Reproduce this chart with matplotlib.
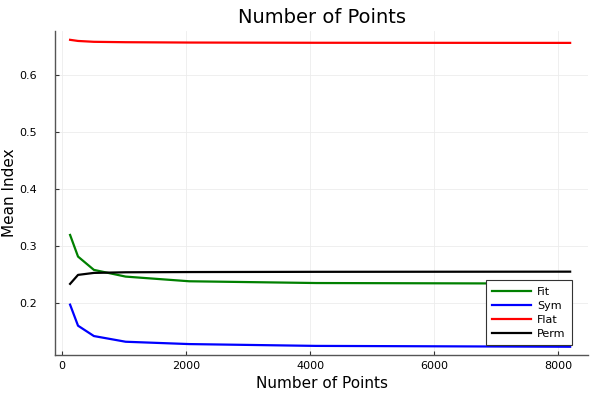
import matplotlib
matplotlib.use("Agg")
import matplotlib.pyplot as plt

# 数据
points = [128, 256, 512, 1024, 2048, 4096, 8192]
fit = [0.319, 0.281, 0.2576, 0.2458, 0.2376, 0.2345, 0.2335]
sym = [0.1965, 0.1595, 0.1413, 0.1313, 0.1272, 0.1240, 0.1225]
flat = [0.662, 0.660, 0.6585, 0.6578, 0.6572, 0.6568, 0.6566]
perm = [0.233, 0.2488, 0.2523, 0.2534, 0.2538, 0.2542, 0.2545]

plt.rcParams["font.family"] = ["DejaVu Sans"]

fig = plt.figure(figsize=(6, 4), dpi=100)
ax = fig.add_axes([0.0917, 0.1125, 0.8883, 0.81])

ax.plot(points, fit, color="#008000", lw=1.6, label="Fit")
ax.plot(points, sym, color="#0000ff", lw=1.6, label="Sym")
ax.plot(points, flat, color="#ff0000", lw=1.6, label="Flat")
ax.plot(points, perm, color="#000000", lw=1.6, label="Perm")

ax.set_xlim(-115, 8480)
ax.set_ylim(0.108, 0.6775)
ax.set_xticks([0, 2000, 4000, 6000, 8000])
ax.set_yticks([0.2, 0.3, 0.4, 0.5, 0.6])
ax.grid(True, color="#ececec", lw=0.6)
ax.set_axisbelow(True)

for s in ["top", "right"]:
    ax.spines[s].set_visible(False)
for s in ["left", "bottom"]:
    ax.spines[s].set_color("#555555")
    ax.spines[s].set_linewidth(1.0)
ax.tick_params(direction="in", length=3, labelsize=8, color="#333333")
ax.tick_params(axis="x", pad=4)
ax.tick_params(axis="y", pad=13)

ax.set_title("Number of Points", fontsize=14)
ax.set_xlabel("Number of Points", fontsize=11)
ax.set_ylabel("Mean Index", fontsize=11)
ax.yaxis.set_label_coords(-0.071, 0.5)

leg = ax.legend(loc="lower right", fontsize=8, fancybox=False, framealpha=1,
                edgecolor="#333333", handlelength=3.5, handletextpad=0.5,
                labelspacing=0.35, borderpad=0.6, borderaxespad=0,
                bbox_to_anchor=(0.97, 0.03))
leg.get_frame().set_linewidth(0.8)

fig.savefig("out.png", dpi=100)
